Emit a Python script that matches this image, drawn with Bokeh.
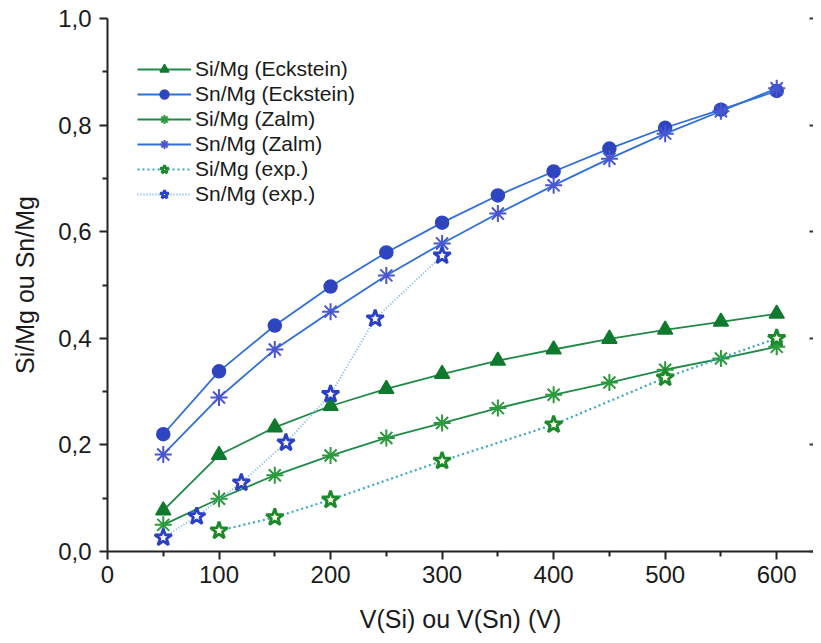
from bokeh.plotting import figure
from bokeh.models import Range1d, FixedTicker, CustomJSTickFormatter, LinearAxis
from bokeh.embed import file_html
from bokeh.resources import INLINE

# Data
v_model = [50, 100, 150, 200, 250, 300, 350, 400, 450, 500, 550, 600]
si_eck = [0.077, 0.181, 0.233, 0.273, 0.305, 0.333, 0.358, 0.379, 0.399, 0.416, 0.431, 0.446]
sn_eck = [0.220, 0.338, 0.424, 0.497, 0.561, 0.617, 0.668, 0.713, 0.756, 0.795, 0.829, 0.864]
si_zalm = [0.050, 0.099, 0.143, 0.180, 0.213, 0.241, 0.269, 0.294, 0.317, 0.341, 0.362, 0.384]
sn_zalm = [0.182, 0.289, 0.379, 0.450, 0.518, 0.578, 0.634, 0.687, 0.737, 0.784, 0.826, 0.869]
v_si_exp = [100, 150, 200, 300, 400, 500, 600]
si_exp = [0.039, 0.064, 0.097, 0.170, 0.238, 0.326, 0.400]
v_sn_exp = [50, 80, 120, 160, 200, 240, 300]
sn_exp = [0.026, 0.066, 0.129, 0.204, 0.295, 0.437, 0.555]
x_ticks = [0, 100, 200, 300, 400, 500, 600]
x_minor = [50, 150, 250, 350, 450, 550]
y_ticks = [0.0, 0.2, 0.4, 0.6, 0.8, 1.0]
y_minor = [0.1, 0.3, 0.5, 0.7, 0.9]

FONT = "Liberation Sans"
TXT = "#1a1a1a"

p = figure(width=813, height=635, output_backend="svg", toolbar_location=None,
           x_range=Range1d(0, 633), y_range=Range1d(0, 1.0),
           min_border_left=107, min_border_right=0, min_border_top=18, min_border_bottom=84)
p.outline_line_color = None
p.xgrid.visible = False
p.ygrid.visible = False
p.background_fill_color = "white"

GREEN_L = "#1f8a48"
GREEN_M = "#0f7a2e"
BLUE_L = "#2f6fd8"
BLUE_M = "#2f45c0"

def series(x, y, line_color, marker, m_color, size, label, dash="solid", fill=None, mlw=1.5, line_lw=1.8):
    p.line(x, y, line_color=line_color, line_width=line_lw, line_dash=dash, legend_label=label)
    p.scatter(x, y, marker=marker, size=size, line_color=m_color,
              fill_color=(m_color if fill is None else fill), line_width=mlw, legend_label=label)

series(v_model, si_eck, GREEN_L, "triangle", GREEN_M, 15, "Si/Mg (Eckstein)")
series(v_model, sn_eck, BLUE_L, "circle", BLUE_M, 13, "Sn/Mg (Eckstein)")
series(v_model, si_zalm, GREEN_L, "asterisk", "#2a9a3a", 17, "Si/Mg (Zalm)", mlw=2)
series(v_model, sn_zalm, BLUE_L, "asterisk", "#4a55d0", 17, "Sn/Mg (Zalm)", mlw=2)
series(v_si_exp, si_exp, "#3aa6c6", "star", "#1a8a2a", 18, "Si/Mg (exp.)", dash="2 3", fill="#fffde8", mlw=2.8, line_lw=2.2)
series(v_sn_exp, sn_exp, "#6ab2ea", "star", "#2a40c8", 18, "Sn/Mg (exp.)", dash="1 2", fill="#fff4fa", mlw=2.8, line_lw=1.8)

fmt = CustomJSTickFormatter(code="return tick.toFixed(1).replace('.', ',');")

xa = p.xaxis[0]
xa.ticker = FixedTicker(ticks=x_ticks, minor_ticks=x_minor)
xa.axis_label = "V(Si) ou V(Sn) (V)"
ya = p.yaxis[0]
ya.ticker = FixedTicker(ticks=y_ticks, minor_ticks=y_minor)
ya.formatter = fmt
ya.axis_label = "Si/Mg ou Sn/Mg"

for ax in (xa, ya):
    ax.axis_line_color = "#222222"
    ax.axis_line_width = 2
    ax.major_tick_line_color = "#222222"
    ax.minor_tick_line_color = "#222222"
    ax.major_tick_line_width = 2
    ax.minor_tick_line_width = 2
    ax.major_tick_out = 8
    ax.major_tick_in = 0
    ax.minor_tick_out = 5
    ax.minor_tick_in = 0
    ax.major_label_text_font = FONT
    ax.major_label_text_font_size = "24px"
    ax.major_label_text_color = TXT
    ax.axis_label_text_font = FONT
    ax.axis_label_text_font_size = "25px"
    ax.axis_label_text_font_style = "normal"
    ax.axis_label_text_color = TXT
xa.major_label_standoff = 6
xa.axis_label_standoff = 19
ya.major_label_standoff = 8
ya.axis_label_standoff = 16

ra = LinearAxis(ticker=FixedTicker(ticks=y_ticks, minor_ticks=[]),
                formatter=CustomJSTickFormatter(code="return '';"))
ra.axis_line_color = "#dddddd"
ra.major_tick_in = 4
ra.major_tick_out = 0
ra.major_tick_line_color = "#333333"
ra.major_tick_line_width = 2
ra.minor_tick_line_color = None
p.add_layout(ra, "right")

lg = p.legend[0]
lg.location = (30, 345)
lg.border_line_color = None
lg.background_fill_alpha = 0
lg.label_text_font = FONT
lg.label_text_font_size = "21px"
lg.label_text_color = TXT
lg.glyph_width = 54
lg.glyph_height = 22
lg.label_height = 22
lg.spacing = 1
lg.label_standoff = 4
lg.margin = 0
lg.padding = 0

open("out.html", "w").write(file_html(p, INLINE))
